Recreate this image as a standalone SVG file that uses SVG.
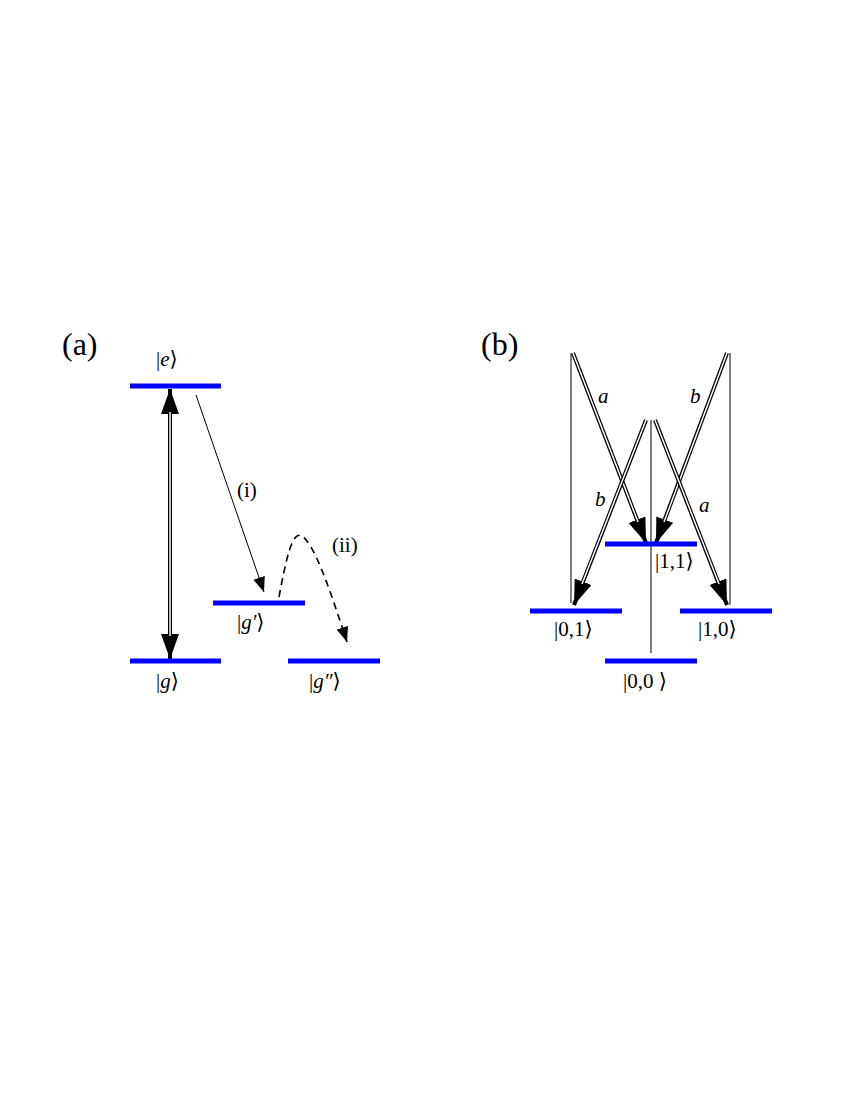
<svg xmlns="http://www.w3.org/2000/svg" width="850" height="1100" viewBox="0 0 850 1100">
<style>
.bar{stroke:#0000ff;stroke-width:5}
.t{font-family:"Liberation Serif","DejaVu Serif",serif;font-size:21px}
.big{font-family:"Liberation Serif",serif;font-size:32px}
.i{font-style:italic}
.thin{stroke:#000;stroke-width:1;fill:none}
.dbl{stroke:#000;stroke-width:4;fill:none}
.wh{stroke:#fff;stroke-width:1.5;fill:none}
</style>
<defs>
<marker id="h" markerUnits="userSpaceOnUse" markerWidth="27" markerHeight="20" refX="25" refY="9" orient="auto-start-reverse"><path d="M0,0 L25,9 L0,18 z" fill="#000"/></marker>
<marker id="s" markerUnits="userSpaceOnUse" markerWidth="16" markerHeight="14" refX="15" refY="6" orient="auto"><path d="M0,0 L15,6 L0,12 z" fill="#000"/></marker>
</defs>
<text class="big" x="62" y="355">(a)</text>
<text class="big" x="481" y="355">(b)</text>
<g id="connectors">
<line class="dbl" x1="170" y1="389" x2="170" y2="659" marker-start="url(#h)" marker-end="url(#h)"/>
<line class="wh" x1="170" y1="412" x2="170" y2="636"/>
<line class="thin" x1="196" y1="395" x2="264" y2="592" stroke-width="1.6" marker-end="url(#s)"/>
<path d="M279,597 C286,560 292,530 302,536 C315,545 330,590 347,642" fill="none" stroke="#000" stroke-width="1.6" stroke-dasharray="7,5" marker-end="url(#s)"/>
<line class="thin" x1="571" y1="353" x2="571" y2="603"/>
<line class="thin" x1="730" y1="353" x2="730" y2="605"/>
<line class="thin" x1="651" y1="420" x2="651" y2="653"/>
<line class="dbl" x1="573" y1="353" x2="646" y2="543" marker-end="url(#h)"/>
<line class="wh" x1="573" y1="353" x2="638" y2="522"/>
<line class="dbl" x1="727" y1="353" x2="656" y2="543" marker-end="url(#h)"/>
<line class="wh" x1="727" y1="353" x2="664" y2="522"/>
<line class="dbl" x1="646" y1="420" x2="574" y2="605" marker-end="url(#h)"/>
<line class="wh" x1="646" y1="420" x2="582" y2="584"/>
<line class="dbl" x1="655" y1="420" x2="727" y2="605" marker-end="url(#h)"/>
<line class="wh" x1="655" y1="420" x2="719" y2="584"/>
</g>
<text class="t" x="237" y="497">(i)</text>
<text class="t" x="332" y="552">(ii)</text>
<text class="t i" x="598" y="403">a</text>
<text class="t i" x="690" y="403">b</text>
<text class="t i" x="595" y="506">b</text>
<text class="t i" x="699" y="512">a</text>
<g id="e"><line class="bar" x1="130" y1="386" x2="221" y2="386"/><text class="t" x="156" y="366">|<tspan class="i">e</tspan>⟩</text></g>
<g id="g"><line class="bar" x1="130" y1="661" x2="221" y2="661"/><text class="t" x="156" y="688">|<tspan class="i">g</tspan>⟩</text></g>
<g id="gp"><line class="bar" x1="213" y1="603" x2="305" y2="603"/><text class="t" x="237" y="629">|<tspan class="i">g′</tspan>⟩</text></g>
<g id="gpp"><line class="bar" x1="288" y1="661" x2="380" y2="661"/><text class="t" x="309" y="688">|<tspan class="i">g″</tspan>⟩</text></g>
<g id="s11"><line class="bar" x1="605" y1="544" x2="697" y2="544"/><text class="t" x="655" y="568">|1,1⟩</text></g>
<g id="s01"><line class="bar" x1="530" y1="611" x2="622" y2="611"/><text class="t" x="554" y="636">|0,1⟩</text></g>
<g id="s10"><line class="bar" x1="680" y1="611" x2="772" y2="611"/><text class="t" x="698" y="636">|1,0⟩</text></g>
<g id="s00"><line class="bar" x1="605" y1="661" x2="697" y2="661"/><text class="t" x="623" y="688">|0,0 ⟩</text></g>
</svg>
